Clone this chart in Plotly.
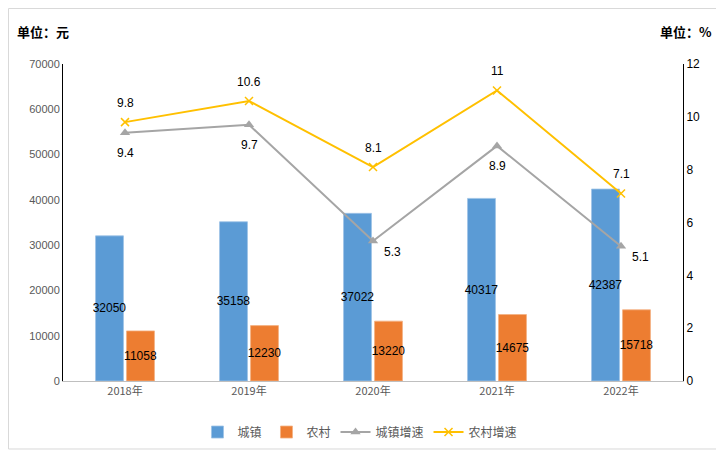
import plotly.graph_objects as go

# 城乡居民人均可支配收入及增速
years = ["2018年", "2019年", "2020年", "2021年", "2022年"]
urban_income = [32050, 35158, 37022, 40317, 42387]
rural_income = [11058, 12230, 13220, 14675, 15718]
urban_growth = [9.4, 9.7, 5.3, 8.9, 5.1]
rural_growth = [9.8, 10.6, 8.1, 11, 7.1]

FONT = "Liberation Sans, Arial, Noto Sans CJK SC"
CJK = "Noto Sans CJK SC, Liberation Sans"

# bar labels sit in the middle of each bar
urban_bar = go.Bar(
    x=years, y=urban_income, name="城镇",
    marker=dict(color="#5B9BD5", line=dict(color="#9DC3E6", width=0.8)),
    text=[str(v) for v in urban_income],
    textposition="inside", insidetextanchor="middle",
    constraintext="none", textangle=0,
    textfont=dict(color="black", size=12, family=FONT),
)
rural_bar = go.Bar(
    x=years, y=rural_income, name="农村",
    marker=dict(color="#ED7D31", line=dict(color="#F4B183", width=0.8)),
    text=[str(v) for v in rural_income],
    textposition="inside", insidetextanchor="middle",
    constraintext="none", textangle=0,
    textfont=dict(color="black", size=12, family=FONT),
)

urban_line = go.Scatter(
    x=years, y=urban_growth, name="城镇增速", yaxis="y2",
    mode="lines+markers",
    line=dict(color="#A5A5A5", width=2),
    marker=dict(symbol="triangle-up", size=9, color="#A5A5A5"),
)
rural_line = go.Scatter(
    x=years, y=rural_growth, name="农村增速", yaxis="y2",
    mode="lines+markers",
    line=dict(color="#FFC000", width=2),
    marker=dict(symbol="x-thin", size=8, color="#FFC000",
                line=dict(color="#FFC000", width=1.5)),
)

fig = go.Figure(data=[urban_bar, rural_bar, urban_line, rural_line])

# line value labels: 农村 above, 城镇 below (two low points set off to the right)
label_font = dict(color="black", size=12, family=FONT)
annotations = []
for yr, v in zip(years, rural_growth):
    annotations.append(dict(x=yr, y=v, xref="x", yref="y2", text=str(v),
                            showarrow=False, yshift=19, font=label_font))
for i, (yr, v) in enumerate(zip(years, urban_growth)):
    side = i in (2, 4)
    annotations.append(dict(x=yr, y=v, xref="x", yref="y2", text=str(v),
                            showarrow=False, font=label_font,
                            xanchor="left" if side else "center",
                            xshift=9 if side else 0,
                            yshift=-11 if side else -20))

annotations += [
    dict(text="<b>单位：元</b>", xref="paper", yref="paper",
         x=-0.077, y=1.104, xanchor="left", yanchor="middle",
         showarrow=False, font=dict(family=CJK, size=13, color="black")),
    dict(text="<b>单位：%</b>", xref="paper", yref="paper",
         x=1.05, y=1.104, xanchor="right", yanchor="middle",
         showarrow=False, font=dict(family=CJK, size=13, color="black")),
]

# the page body adds an 8px offset, so the figure is sized to fit after it
fig.update_layout(
    width=716, height=446,
    margin=dict(l=55, r=41, t=56, b=73, autoexpand=False),
    paper_bgcolor="white", plot_bgcolor="white",
    font=dict(family=CJK, size=11, color="#595959"),
    barmode="group", bargap=0.5, bargroupgap=0.1,
    showlegend=True,
    legend=dict(orientation="h", x=0.479, xanchor="center",
                y=-0.161, yanchor="middle",
                font=dict(family=CJK, size=12, color="#595959"),
                itemwidth=30, traceorder="normal"),
    xaxis=dict(showgrid=False, showline=True, linecolor="#BFBFBF",
               linewidth=1, ticks="", automargin=False,
               tickfont=dict(family=CJK, size=11)),
    yaxis=dict(range=[0, 70000], dtick=10000, showgrid=False,
               showline=True, linecolor="black", linewidth=1,
               zeroline=False, ticks="", tickformat="d", automargin=False,
               tickfont=dict(family=FONT, size=11, color="#595959")),
    yaxis2=dict(range=[0, 12], dtick=2, overlaying="y", side="right",
                showgrid=False, showline=True, linecolor="black",
                linewidth=1, zeroline=False, ticks="", automargin=False,
                tickfont=dict(family=FONT, size=12, color="black")),
    annotations=annotations,
    shapes=[
        dict(type="rect", xref="paper", yref="paper",
             x0=-0.0879, x1=1.0548, y0=-0.2145, y1=1.175,
             line=dict(color="#D9D9D9", width=1), layer="below"),
    ],
)

fig.write_html("out.html")
